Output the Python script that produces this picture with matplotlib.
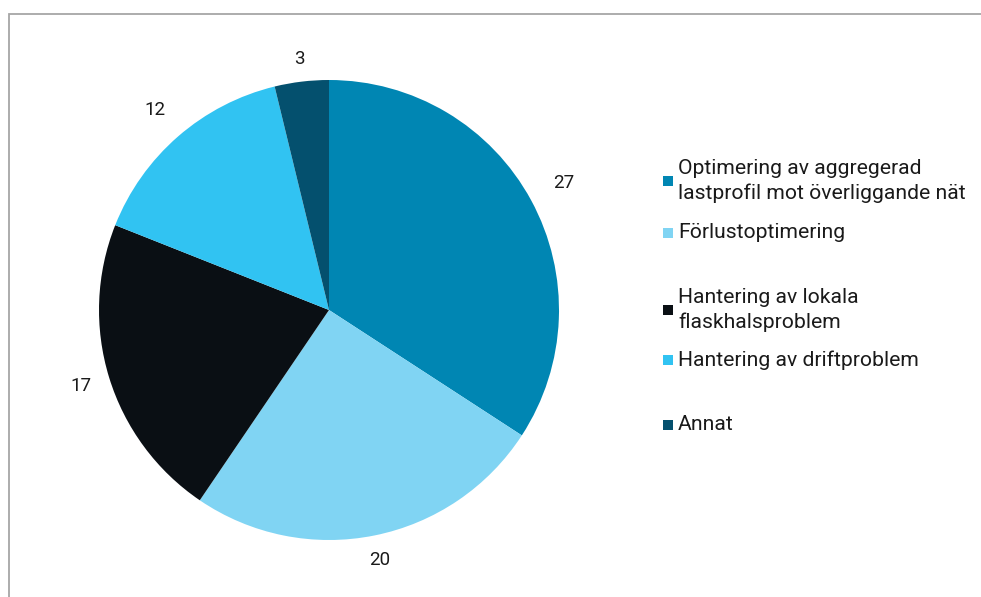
import matplotlib
matplotlib.use("Agg")
import matplotlib.pyplot as plt
import numpy as np
from matplotlib.patches import Rectangle

categories = [
    "Optimering av aggregerad\nlastprofil mot överliggande nät",
    "Förlustoptimering",
    "Hantering av lokala\nflaskhalsproblem",
    "Hantering av driftproblem",
    "Annat",
]
values = [27, 20, 17, 12, 3]
colors = ["#0086B3", "#80D4F3", "#0A0F14", "#31C3F2", "#04506E"]

plt.rcParams["font.family"] = ["Roboto", "DejaVu Sans"]

fig = plt.figure(figsize=(9.81, 5.97), dpi=100)

# outer chart frame (left and top edges visible)
fig.patches.append(Rectangle((8.5 / 981, -0.1), 1.2, (597 - 13.5) / 597 + 0.1,
                             transform=fig.transFigure, fill=False,
                             edgecolor="#A6A6A6", linewidth=1.3))

ax = fig.add_axes([99 / 981, 57 / 597, 460 / 981, 460 / 597])
wedges, _ = ax.pie(values, colors=colors, startangle=90, counterclock=False)

# value labels just outside each wedge
label_r = [1.16, 1.11, 1.13, 1.15, 1.10]
for w, v, r in zip(wedges, values, label_r):
    mid = np.deg2rad((w.theta1 + w.theta2) / 2)
    ax.text(r * np.cos(mid), r * np.sin(mid), str(v), fontsize=13.5,
            color="#1a1a1a", ha="center", va="center")
ax.set_xlim(-1, 1)
ax.set_ylim(-1, 1)
ax.set_aspect("equal")

# legend drawn entry by entry
legend_y = [181, 233, 310, 360, 425]
for lab, col, yy in zip(categories, colors, legend_y):
    yf = 1 - yy / 597
    fig.patches.append(Rectangle((663 / 981, yf - 5 / 597), 10 / 981, 10 / 597,
                                 transform=fig.transFigure, facecolor=col,
                                 edgecolor="none"))
    fig.text(678 / 981, yf, lab, fontsize=15.2, color="#1a1a1a",
             va="center", ha="left", linespacing=1.38)

fig.savefig("out.png", dpi=100)
